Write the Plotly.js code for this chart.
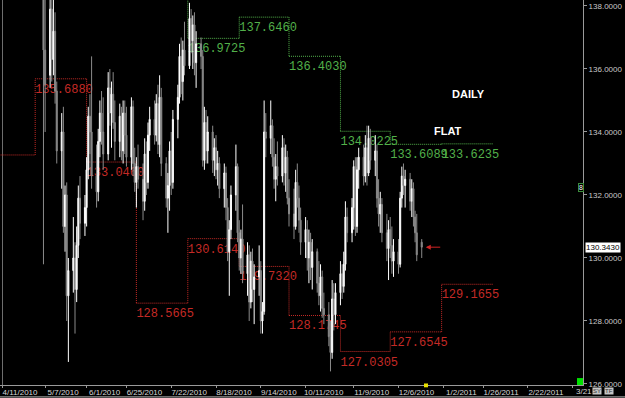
<!DOCTYPE html>
<html><head><meta charset="utf-8">
<script src="https://cdn.plot.ly/plotly-3.0.1.min.js"></script>
<style>html,body{margin:0;padding:0;background:#000;}#chart{width:625px;height:398px;}</style>
</head><body><div id="chart"></div>
<script>
// ---- daily bars (GBP/JPY style) ----
const dates = [
'2010-05-06','2010-05-07','2010-05-10','2010-05-11','2010-05-12','2010-05-13','2010-05-14',
'2010-05-17','2010-05-18','2010-05-19','2010-05-20','2010-05-21','2010-05-24','2010-05-25','2010-05-26','2010-05-27','2010-05-28','2010-05-31',
'2010-06-01','2010-06-02','2010-06-03','2010-06-04','2010-06-07','2010-06-08','2010-06-09','2010-06-10','2010-06-11',
'2010-06-14','2010-06-15','2010-06-16','2010-06-17','2010-06-18','2010-06-21','2010-06-22','2010-06-23','2010-06-24','2010-06-25',
'2010-06-28','2010-06-29','2010-06-30','2010-07-01','2010-07-02','2010-07-05','2010-07-06','2010-07-07','2010-07-08','2010-07-09',
'2010-07-12','2010-07-13','2010-07-14','2010-07-15','2010-07-16','2010-07-19','2010-07-20','2010-07-21','2010-07-22','2010-07-23',
'2010-07-26','2010-07-27','2010-07-28','2010-07-29','2010-07-30','2010-08-02','2010-08-03','2010-08-04','2010-08-05','2010-08-06',
'2010-08-09','2010-08-10','2010-08-11','2010-08-12','2010-08-13','2010-08-16','2010-08-17','2010-08-18','2010-08-19','2010-08-20',
'2010-08-23','2010-08-24','2010-08-25','2010-08-26','2010-08-27','2010-08-30','2010-08-31','2010-09-01','2010-09-02','2010-09-03',
'2010-09-06','2010-09-07','2010-09-08','2010-09-09','2010-09-10','2010-09-13','2010-09-14','2010-09-15','2010-09-16','2010-09-17',
'2010-09-20','2010-09-21','2010-09-22','2010-09-23','2010-09-24','2010-09-27','2010-09-28','2010-09-29','2010-09-30','2010-10-01',
'2010-10-04','2010-10-05','2010-10-06','2010-10-07','2010-10-08','2010-10-11','2010-10-12','2010-10-13','2010-10-14','2010-10-15',
'2010-10-18','2010-10-19','2010-10-20','2010-10-21','2010-10-22','2010-10-25','2010-10-26','2010-10-27','2010-10-28','2010-10-29',
'2010-11-01','2010-11-02','2010-11-03','2010-11-04','2010-11-05','2010-11-08','2010-11-09','2010-11-10','2010-11-11','2010-11-12',
'2010-11-15','2010-11-16','2010-11-17','2010-11-18','2010-11-19','2010-11-22','2010-11-23','2010-11-24','2010-11-25','2010-11-26',
'2010-11-29','2010-11-30','2010-12-01','2010-12-02','2010-12-03','2010-12-06','2010-12-07','2010-12-08','2010-12-09','2010-12-10',
'2010-12-13','2010-12-14','2010-12-15','2010-12-16','2010-12-17','2010-12-20'
];
const openP = [
140.5,136.6,135.8,137.9,136.3,137.2,135.3,
133.4,134.0,131.0,132.0,128.8,129.6,130.0,129.0,130.4,131.9,131.1,
131.6,132.8,134.5,134.0,132.6,132.1,133.7,134.6,134.0,
133.3,135.4,134.6,135.2,134.3,133.7,134.5,133.4,134.6,133.9,
133.2,134.8,133.0,132.4,132.9,132.5,131.8,133.3,132.4,133.9,
134.4,133.9,134.9,133.6,135.1,133.0,131.9,132.3,133.4,132.4,
134.4,135.1,136.4,135.6,136.6,136.1,137.6,136.9,137.4,136.2,
136.8,136.4,133.1,134.3,133.4,134.0,133.1,133.5,132.8,133.0,
132.2,132.7,131.6,130.2,130.9,132.0,132.9,130.8,130.0,130.6,
129.5,130.1,128.6,129.9,129.0,129.4,129.6,128.0,128.3,134.0,
133.8,134.2,133.2,132.5,132.9,132.6,133.5,132.7,133.2,131.9,
131.4,131.0,132.4,131.9,131.2,130.5,130.9,130.0,130.5,129.7,
130.2,129.2,128.8,129.4,128.4,128.2,127.5,127.0,128.7,128.2,
128.9,129.5,129.1,129.8,131.3,130.8,131.6,132.9,131.0,132.8,
133.2,132.6,133.5,132.7,133.8,133.1,133.4,131.9,131.4,131.7,
130.8,130.3,130.9,130.4,129.9,130.2,129.8,131.9,132.6,132.3,
132.5,131.8,132.2,131.3,130.8,130.5
];
const highP = [
141.2,138.9,139.5,138.8,138.3,137.8,135.6,
134.6,134.8,132.3,132.4,130.0,131.3,130.5,131.0,132.3,132.6,132.0,
133.2,134.8,135.2,136.4,133.6,134.1,135.0,135.3,135.1,
135.9,136.0,135.6,135.9,135.0,134.9,134.8,135.0,135.0,134.8,
135.1,135.0,133.5,133.2,133.6,133.0,133.8,133.7,134.3,134.8,
135.0,135.2,135.5,135.8,135.4,133.2,132.7,133.7,134.0,134.7,
135.5,136.8,137.0,136.9,137.5,138.1,137.9,137.7,137.8,137.2,
137.0,136.6,134.8,134.7,134.5,134.2,133.8,133.9,133.4,133.2,
133.0,132.9,131.9,131.2,132.3,133.6,133.0,131.2,130.9,131.7,
130.5,130.4,130.2,130.3,129.8,130.4,129.9,128.6,135.0,134.6,
135.0,134.4,133.8,133.3,133.7,133.9,133.8,133.6,133.4,132.5,
132.2,132.8,133.0,132.3,131.6,131.3,131.2,130.9,130.8,130.6,
130.3,129.9,129.8,129.6,128.9,128.6,128.0,129.3,129.2,129.2,
129.9,129.8,130.2,131.8,131.6,131.9,133.1,133.2,133.2,133.5,
133.6,133.9,134.2,134.2,134.1,133.9,133.6,132.5,132.1,131.9,
131.4,131.2,131.3,131.0,130.6,130.6,132.1,132.9,133.0,132.8,
132.7,132.5,132.4,131.5,131.4,130.6
];
const lowP = [
129.8,134.0,135.4,135.6,135.8,134.9,133.0,
132.2,130.8,130.2,128.0,126.7,128.9,127.6,128.6,130.0,130.6,130.7,
131.0,132.5,133.3,132.2,131.6,131.8,133.2,133.6,132.8,
133.1,134.2,133.5,134.1,133.1,133.2,133.1,133.0,133.3,132.9,
132.8,132.6,132.1,131.6,132.2,131.2,131.5,132.0,132.2,133.4,
133.6,133.7,133.3,133.2,132.6,131.6,130.8,131.5,132.0,132.2,
133.8,134.9,135.2,135.0,135.8,136.0,136.5,136.0,135.8,135.4,
136.0,132.9,132.8,133.0,133.0,132.7,132.6,132.5,132.3,131.9,
131.6,131.2,129.9,128.8,130.6,131.5,130.5,129.6,129.5,129.2,
128.8,128.0,128.4,128.6,127.9,128.8,127.6,127.6,128.2,133.2,
133.3,132.9,132.2,131.8,132.3,132.4,132.3,132.1,131.7,131.0,
130.6,130.9,131.6,130.8,130.1,130.0,129.6,129.2,129.3,129.0,
128.9,128.5,128.3,128.1,127.9,127.2,126.4,126.8,127.7,127.9,
128.5,128.7,128.9,129.6,130.5,130.5,130.9,130.7,130.8,132.2,
132.3,132.4,132.3,132.6,132.8,132.6,131.6,131.0,130.8,130.5,
129.9,129.3,130.0,129.5,129.4,129.5,129.7,131.6,132.0,131.6,
131.5,131.3,131.0,130.5,129.9,130.0
];
const closeP = [
136.6,135.5,137.9,136.3,137.2,135.3,133.4,
134.0,131.0,132.0,128.8,129.6,130.0,129.0,130.4,131.9,131.1,131.6,
132.8,134.5,134.0,132.6,132.1,133.7,134.6,134.0,133.3,
135.4,134.6,135.2,134.3,133.7,134.5,133.4,134.6,133.9,133.2,
134.8,133.0,132.4,132.9,132.5,131.8,133.3,132.4,133.9,134.4,
133.9,134.9,133.6,135.1,133.0,131.9,132.3,133.4,132.4,134.4,
135.1,136.4,135.6,136.6,136.1,137.6,136.9,137.4,136.2,136.8,
136.4,133.1,134.3,133.4,134.0,133.1,133.5,132.8,133.0,132.2,
132.7,131.6,130.2,130.9,132.0,132.9,130.8,130.0,130.6,129.5,
130.1,128.6,129.9,129.0,129.4,129.6,128.0,128.3,134.0,133.8,
134.2,133.2,132.5,132.9,132.6,133.5,132.7,133.2,131.9,131.4,
131.0,132.4,131.9,131.2,130.5,130.9,130.0,130.5,129.7,130.2,
129.2,128.8,129.4,128.4,128.2,127.5,127.0,128.7,128.2,128.9,
129.5,129.1,129.8,131.3,130.8,131.6,132.9,131.0,132.8,133.2,
132.6,133.5,132.7,133.8,133.1,133.4,131.9,131.4,131.7,130.8,
130.3,130.9,130.4,129.9,130.2,129.8,131.9,132.6,132.3,132.5,
131.8,132.2,131.3,130.8,130.1,130.343
];

// ---- monthly levels (dotted step lines) ----
const supportStarts = ['2010-04-01','2010-05-01','2010-06-01','2010-07-01','2010-08-01','2010-09-01','2010-10-01','2010-11-01','2010-12-01','2011-01-01','2011-02-01'];
const supportLevels = [133.27, 135.688, 133.046, 128.5665, 130.614, 129.732, 128.1745, 127.0305, 127.6545, 129.1655];
const supportLabels = ['', '135.6880', '133.0460', '128.5665', '130.6140', '129.7320', '128.1745', '127.0305', '127.6545', '129.1655'];
const resistStarts = ['2010-07-01','2010-08-01','2010-09-01','2010-10-01','2010-11-01','2010-12-01','2011-01-01','2011-02-01'];
const resistLevels = [140.2, 136.9725, 137.646, 136.403, 134.0225, 133.6089, 133.6235];
const resistLabels = ['', '136.9725', '137.6460', '136.4030', '134.0225', '133.6089', '133.6235'];

// ---- axis ticks ----
const tickDates = ['2010-04-11','2010-05-07','2010-06-01','2010-06-25','2010-07-22','2010-08-18','2010-09-14','2010-10-11','2010-11-09','2010-12-06','2011-01-02','2011-01-26','2011-02-22','2011-03-21'];
const tickLabels = ['4/11/2010','5/7/2010','6/1/2010','6/25/2010','7/22/2010','8/18/2010','9/14/2010','10/11/2010','11/9/2010','12/6/2010','1/2/2011','1/26/2011','2/22/2011',''];
const lastTickLabel = '3/21';
const yTicks = [126, 128, 130, 132, 134, 136, 138];
const lastPrice = 130.343;

const RED = '#c42a26', GREEN = '#52b04a';
function stepShapes(starts, levels, labels, color) {
  const out = [];
  for (let i = 0; i < levels.length; i++) {
    out.push({type:'line', xref:'x', yref:'y', x0:starts[i], x1:starts[i+1], y0:levels[i], y1:levels[i],
      layer:'below', line:{color:color, width:1, dash:'1px,1px'},
      label:{text:labels[i], font:{family:'Liberation Mono', size:12, color:color},
             textposition:'start', xanchor:'left', yanchor:'top', padding:2}});
    if (i + 1 < levels.length) {
      out.push({type:'line', xref:'x', yref:'y', x0:starts[i+1], x1:starts[i+1], y0:levels[i], y1:levels[i+1],
        layer:'below', line:{color:color, width:1, dash:'1px,1px'}});
    }
  }
  return out;
}

const shapes = [
  {type:'line', xref:'paper', yref:'paper', x0:0.0043, x1:0.0043, y0:0, y1:1, line:{color:'#6e6e6e', width:1}, layer:'below'},
  ...stepShapes(supportStarts, supportLevels, supportLabels, RED),
  ...stepShapes(resistStarts, resistLevels, resistLabels, GREEN),
  {type:'rect', xref:'paper', yref:'paper', x0:424/583, x1:428/583, y0:-0.006, y1:0.004, fillcolor:'#e8e000', line:{width:0}},
  {type:'rect', xref:'paper', yref:'paper', x0:577/583, x1:1, y0:0.0, y1:0.018, fillcolor:'#00e000', line:{width:0}},
  {type:'line', xref:'paper', yref:'paper', x0:0, x1:625/583, y0:-0.031, y1:-0.031, line:{color:'#bdbdbd', width:1}}
];

const annotations = [
  {xref:'paper', yref:'paper', x:468/583, y:1-94/385, xanchor:'center', yanchor:'middle', text:'<b>DAILY</b>', showarrow:false,
   font:{family:'Liberation Sans, Arial', size:11, color:'#ffffff'}},
  {xref:'paper', yref:'paper', x:448/583, y:1-131/385, xanchor:'center', yanchor:'middle', text:'<b>FLAT</b>', showarrow:false,
   font:{family:'Liberation Sans, Arial', size:11, color:'#ffffff'}},
  {xref:'x', yref:'y', x:dates[dates.length-1], y:lastPrice, text:'', showarrow:true, ax:20, ay:0,
   arrowhead:2, arrowsize:1, arrowwidth:1, arrowcolor:'#d02424', standoff:4},
  {xref:'paper', yref:'y', x:1, xanchor:'left', yanchor:'middle', xshift:2, y:lastPrice, text:'130.3430', showarrow:false,
   bgcolor:'#ffffff', borderpad:0, font:{family:'Liberation Sans, Arial', size:8, color:'#000000'}},
  {xref:'paper', yref:'paper', x:580.5/583, y:1-188/385, xanchor:'center', yanchor:'middle', text:'8', showarrow:false, bgcolor:'#000',
   bordercolor:'#3c8c3c', borderwidth:1, borderpad:0, font:{family:'Liberation Sans, Arial', size:7, color:'#ffffff'}},
  {xref:'paper', yref:'paper', x:575/583, y:-6/385, xanchor:'left', yanchor:'middle',
   text:lastTickLabel, showarrow:false, borderpad:0, font:{family:'Liberation Sans, Arial', size:8, color:'#d6d6d6'}},
  {xref:'paper', yref:'paper', x:597/583, y:-6/385, xanchor:'center', yanchor:'middle', text:'SY', showarrow:false, bgcolor:'#c4c4c4', borderpad:0,
   font:{family:'Liberation Sans, Arial', size:6, color:'#333'}},
  {xref:'paper', yref:'paper', x:609/583, y:-6/385, xanchor:'center', yanchor:'middle', text:'TF', showarrow:false, bgcolor:'#c4c4c4', borderpad:0,
   font:{family:'Liberation Sans, Arial', size:6, color:'#333'}}
];

const trace = {
  type:'candlestick', x:dates, open:openP, high:highP, low:lowP, close:closeP,
  increasing:{line:{color:'#ffffff', width:1}, fillcolor:'#ffffff'},
  decreasing:{line:{color:'#8a8a8a', width:1}, fillcolor:'#8a8a8a'},
  whiskerwidth:0, hoverinfo:'skip', showlegend:false
};

const layout = {
  width:625, height:398, margin:{l:0, r:42, t:0, b:13, autoexpand:false},
  paper_bgcolor:'#000', plot_bgcolor:'#000', showlegend:false, boxgap:0.1,
  xaxis:{type:'date', range:['2010-04-09 19:00','2011-03-27 05:00'], rangeslider:{visible:false},
    tickvals:tickDates, ticktext:tickLabels, ticklabelshift:18, ticklabelstandoff:-3, tickangle:0,
    showgrid:false, zeroline:false, showline:true, linecolor:'#9a9a9a', linewidth:1,
    ticks:'outside', ticklen:2, tickcolor:'#9a9a9a', automargin:false,
    tickfont:{family:'Liberation Sans, Arial', size:8, color:'#d6d6d6'}, fixedrange:true},
  yaxis:{side:'right', range:[125.968, 138.19], tickvals:yTicks, tickformat:'.4f',
    showgrid:false, zeroline:false, showline:true, linecolor:'#9a9a9a', linewidth:1,
    ticks:'outside', ticklen:3, tickcolor:'#9a9a9a', automargin:false,
    tickfont:{family:'Liberation Sans, Arial', size:8, color:'#c8c8c8'}, fixedrange:true},
  shapes:shapes, annotations:annotations
};

Plotly.newPlot('chart', [trace], layout, {staticPlot:true, displayModeBar:false});
</script>
</body></html>
